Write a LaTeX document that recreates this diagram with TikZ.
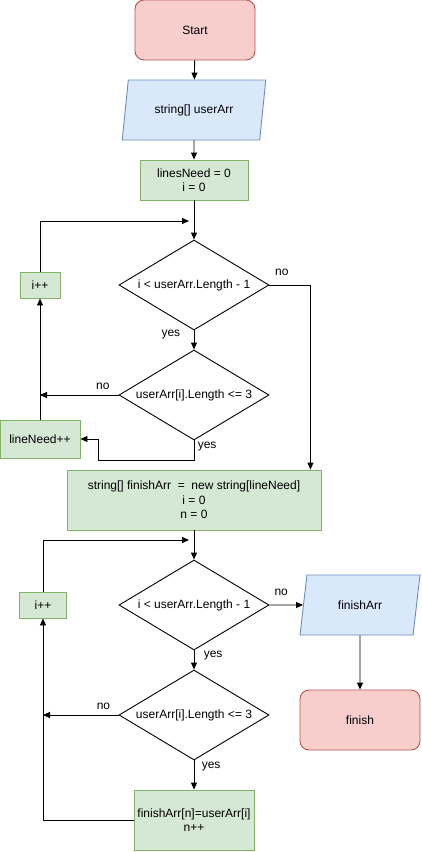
\documentclass[tikz,border=0pt]{standalone}
\usepackage{fontspec}
\setmainfont{Liberation Sans}
\usetikzlibrary{shapes.geometric,arrows.meta}
\definecolor{termfill}{HTML}{F8CECC}
\definecolor{termline}{HTML}{B85450}
\definecolor{iofill}{HTML}{DAE8FC}
\definecolor{ioline}{HTML}{6C8EBF}
\definecolor{opfill}{HTML}{D5E8D4}
\definecolor{opline}{HTML}{82B366}
\begin{document}
\begin{tikzpicture}[x=1pt, y=-1pt, font=\fontsize{12}{14.5}\selectfont, line width=0.9pt,
    terminal/.style={rectangle, rounded corners=9pt, draw=termline, fill=termfill, minimum width=120pt, minimum height=60pt},
    io/.style={trapezium, trapezium left angle=72, trapezium right angle=108, trapezium stretches=true, draw=ioline, fill=iofill, minimum height=60pt, inner sep=0pt},
    process/.style={rectangle, draw=opline, fill=opfill, align=center, inner sep=0pt},
    decision/.style={diamond, draw, aspect=1.667, minimum width=150pt, minimum height=90pt, inner sep=0pt},
    flow/.style={-{Triangle[length=7pt, width=6pt]}}]
    \fill[white] (0,0) rectangle (421,852);
    \useasboundingbox (0,0) rectangle (421,852);
    % first pass: count the short strings
    \node[terminal] (start) at (195,30) {Start};
    \node[io, minimum width=144pt] (input) at (194,110) {string[] userArr};
    \node[process, minimum width=108pt, minimum height=40pt] (init) at (194,180) {linesNeed = 0\\i = 0};
    \node[decision] (cond1) at (194,285) {i < userArr.Length - 1};
    \node[decision] (check1) at (194,395) {userArr[i].Length <= 3};
    \node[process, minimum width=40pt, minimum height=26pt] (inc1) at (40,285) {i++};
    \node[process, minimum width=80pt, minimum height=38pt] (count) at (40,439) {lineNeed++};
    \coordinate (join1) at (189,221);
    \coordinate (bend1) at (98,460);
    \draw[flow] (start) -- (input);
    \draw[flow] (input) -- (init);
    \draw[flow] (init) -- (cond1);
    \draw[flow] (inc1) |- (join1);
    \draw[flow] (cond1) -- node[left=10pt, pos=0.2] {yes} (check1);
    \draw[flow] (check1.west) -- node[above=2pt, pos=0.2] {no} (check1.west -| inc1);
    \draw[flow] (check1.south) |- node[right, pos=0.15] {yes} (bend1) |- (count);
    \draw[flow] (count) -- (inc1);
    % second pass: copy them
    \node[process, minimum width=254pt, minimum height=60pt] (alloc) at (194,500) {string[] finishArr \ = \ new string[lineNeed]\\i = 0\\n = 0};
    \draw[flow] (cond1.east) -| node[above=6pt, pos=0.15] {no} ([xshift=-11pt]alloc.north east);
    \node[decision] (cond2) at (194,605) {i < userArr.Length - 1};
    \node[decision] (check2) at (194,715) {userArr[i].Length <= 3};
    \node[process, minimum width=47pt, minimum height=26pt] (inc2) at (43,605) {i++};
    \node[io, minimum width=120pt] (output) at (360,605) {finishArr};
    \node[terminal] (finish) at (360,720) {finish};
    \node[process, minimum width=120pt, minimum height=60pt] (copy) at (194,820) {finishArr[n]=userArr[i]\\n++};
    \coordinate (join2) at (189,540);
    \draw[flow] (alloc) -- (cond2);
    \draw[flow] (inc2) |- (join2);
    \draw[flow] (cond2) -- node[above=6pt, pos=0.35] {no} (output);
    \draw[flow] (output) -- (finish);
    \draw[flow] (cond2) -- node[right=6pt, pos=0.25] {yes} (check2);
    \draw[flow] (check2.west) -- node[above=2pt, pos=0.2] {no} (check2.west -| inc2);
    \draw[flow] (check2) -- node[right=4pt, pos=0.2] {yes} (copy);
    \draw[flow] (copy) -| (inc2);
\end{tikzpicture}
\end{document}
